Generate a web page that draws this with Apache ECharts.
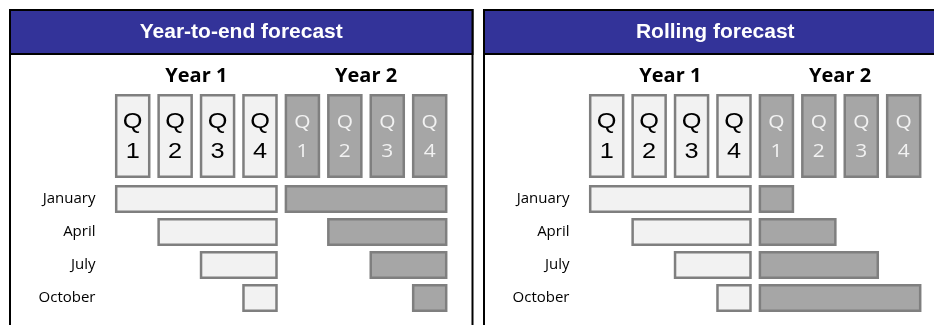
<!DOCTYPE html>
<html>
<head>
<meta charset="utf-8">
<script src="https://cdn.jsdelivr.net/npm/echarts@6/dist/echarts.min.js"></script>
<style>
  html, body { margin: 0; padding: 0; background: #fff; }
  #chart { width: 934px; height: 325px; }
</style>
</head>
<body>
<div id="chart"></div>
<script>
// Panel headings and labels
const panelTitles = ['Year-to-end forecast', 'Rolling forecast'];
const yearLabels = ['Year 1', 'Year 2'];
const quarterLabels = ['Q\n1', 'Q\n2', 'Q\n3', 'Q\n4'];
const months = ['January', 'April', 'July', 'October'];

// Quarters (1-4) covered by the forecast prepared in each month
const ytdYear1From = [1, 2, 3, 4];
const ytdYear1To   = [4, 4, 4, 4];
const ytdYear2From = [1, 2, 3, 4];
const ytdYear2To   = [4, 4, 4, 4];

const rollYear1From = [1, 2, 3, 4];
const rollYear1To   = [4, 4, 4, 4];
const rollYear2From = [1, 1, 1, 1];
const rollYear2To   = [1, 2, 3, 4];

// Colours
const LIGHT_FILL = '#f2f2f2';
const DARK_FILL = '#a6a6a6';
const EDGE = '#7f7f7f';
const HEADER_BLUE = '#333399';

// Layout of the two panels (pixels)
const PANEL_X = [10, 484];
const PANEL_W = 462.5;
const SLOT_LEFT = [111.5, 585.5];
const SLOT_SPAN = 339.4;
const SLOT_GAP = 3.45;     // half gap between neighbouring quarter boxes
const STROKE = 2.5;
const BAR_OUTER = 28;

// Rows of bars for one panel: [row, startSlot, endSlot, year]
function buildBars(y1From, y1To, y2From, y2To) {
  const rows = [];
  months.forEach((m, r) => {
    rows.push([r, y1From[r] - 1, y1To[r], 0]);
    rows.push([r, 4 + y2From[r] - 1, 4 + y2To[r], 1]);
  });
  return rows;
}

// Quarter header boxes: [slot, year, label]
const quarterBoxes = [];
yearLabels.forEach((y, yi) => {
  quarterLabels.forEach((q, qi) => quarterBoxes.push([yi * 4 + qi, yi, q]));
});
const yearMarks = yearLabels.map((y, yi) => [yi * 4 + 2, yi, y]);

function renderQuarterBox(params, api) {
  const slot = api.value(0);
  const year = api.value(1);
  const label = quarterBoxes[params.dataIndex][2];
  const a = api.coord([slot, 1]);
  const b = api.coord([slot + 1, 0]);
  const inset = SLOT_GAP + STROKE / 2;
  const x0 = a[0] + inset, x1 = b[0] - inset;
  const y0 = a[1] + STROKE / 2, y1 = b[1] - STROKE / 2;
  const cx = (x0 + x1) / 2, cy = (y0 + y1) / 2;
  const first = year === 0;
  return {
    type: 'group',
    children: [
      {
        type: 'rect',
        shape: { x: x0, y: y0, width: x1 - x0, height: y1 - y0 },
        style: { fill: first ? LIGHT_FILL : DARK_FILL, stroke: EDGE, lineWidth: STROKE }
      },
      {
        type: 'text',
        x: cx,
        y: cy + 1,
        scaleX: first ? 1.15 : 1.1,
        style: {
          text: label,
          align: 'center',
          verticalAlign: 'middle',
          fill: first ? '#000000' : '#f2f2f2',
          fontFamily: first ? 'Liberation Sans' : 'Open Sans',
          fontSize: first ? 22 : 19,
          lineHeight: first ? 30 : 29
        }
      }
    ]
  };
}

function renderYearLabel(params, api) {
  const p = api.coord([api.value(0), 1]);
  return {
    type: 'text',
    x: p[0],
    y: p[1] - 18,
    style: {
      text: yearMarks[params.dataIndex][2],
      align: 'center',
      verticalAlign: 'middle',
      fill: '#000000',
      fontFamily: 'Open Sans',
      fontWeight: 'bold',
      fontSize: 20
    }
  };
}

function renderBar(params, api) {
  const row = api.value(0);
  const from = api.value(1);
  const to = api.value(2);
  const year = api.value(3);
  const a = api.coord([from, row]);
  const b = api.coord([to, row]);
  const inset = SLOT_GAP + STROKE / 2;
  const h = BAR_OUTER - STROKE;
  return {
    type: 'rect',
    shape: { x: a[0] + inset, y: a[1] - h / 2, width: b[0] - a[0] - 2 * inset, height: h },
    style: { fill: year === 0 ? LIGHT_FILL : DARK_FILL, stroke: EDGE, lineWidth: STROKE }
  };
}

const panels = [
  buildBars(ytdYear1From, ytdYear1To, ytdYear2From, ytdYear2To),
  buildBars(rollYear1From, rollYear1To, rollYear2From, rollYear2To)
];

const grid = [], xAxis = [], yAxis = [], series = [], graphic = [];
const hiddenAxis = {
  axisLine: { show: false }, axisTick: { show: false },
  axisLabel: { show: false }, splitLine: { show: false }
};

panels.forEach((bars, p) => {
  const hg = p * 2, rg = p * 2 + 1;
  grid.push({ left: SLOT_LEFT[p], top: 94, width: SLOT_SPAN, height: 84 });
  grid.push({ left: SLOT_LEFT[p], top: 182.5, width: SLOT_SPAN, height: 132 });

  xAxis.push(Object.assign({ type: 'value', gridIndex: hg, min: 0, max: 8 }, hiddenAxis));
  xAxis.push(Object.assign({ type: 'value', gridIndex: rg, min: 0, max: 8 }, hiddenAxis));
  yAxis.push(Object.assign({ type: 'value', gridIndex: hg, min: 0, max: 1 }, hiddenAxis));
  yAxis.push({
    type: 'category', gridIndex: rg, data: months, inverse: true,
    axisLine: { show: false }, axisTick: { show: false }, splitLine: { show: false },
    axisLabel: { margin: 16, color: '#000000', fontFamily: 'Open Sans', fontSize: 15 }
  });

  series.push({
    type: 'custom', xAxisIndex: hg, yAxisIndex: hg, clip: false,
    data: quarterBoxes.map(d => [d[0], d[1]]), renderItem: renderQuarterBox
  });
  series.push({
    type: 'custom', xAxisIndex: hg, yAxisIndex: hg, clip: false,
    data: yearMarks.map(d => [d[0], d[1]]), renderItem: renderYearLabel
  });
  series.push({
    type: 'custom', xAxisIndex: rg, yAxisIndex: rg, clip: false,
    data: bars, renderItem: renderBar
  });

  // Panel frame and coloured header
  graphic.push({
    type: 'rect', z: -1,
    shape: { x: PANEL_X[p], y: 10, width: PANEL_W, height: 400 },
    style: { fill: '#ffffff', stroke: '#000000', lineWidth: 2 }
  });
  graphic.push({
    type: 'rect',
    shape: { x: PANEL_X[p], y: 10, width: PANEL_W, height: 44 },
    style: { fill: HEADER_BLUE, stroke: '#000000', lineWidth: 2 }
  });
  graphic.push({
    type: 'text',
    x: PANEL_X[p] + PANEL_W / 2,
    y: 32,
    style: {
      text: panelTitles[p],
      align: 'center',
      verticalAlign: 'middle',
      fill: '#ffffff',
      fontFamily: 'Liberation Sans',
      fontWeight: 'bold',
      fontSize: 21
    }
  });
});

const chart = echarts.init(document.getElementById('chart'), null, { renderer: 'canvas' });
chart.setOption({
  animation: false,
  backgroundColor: '#ffffff',
  grid, xAxis, yAxis, series, graphic
});
</script>
</body>
</html>
